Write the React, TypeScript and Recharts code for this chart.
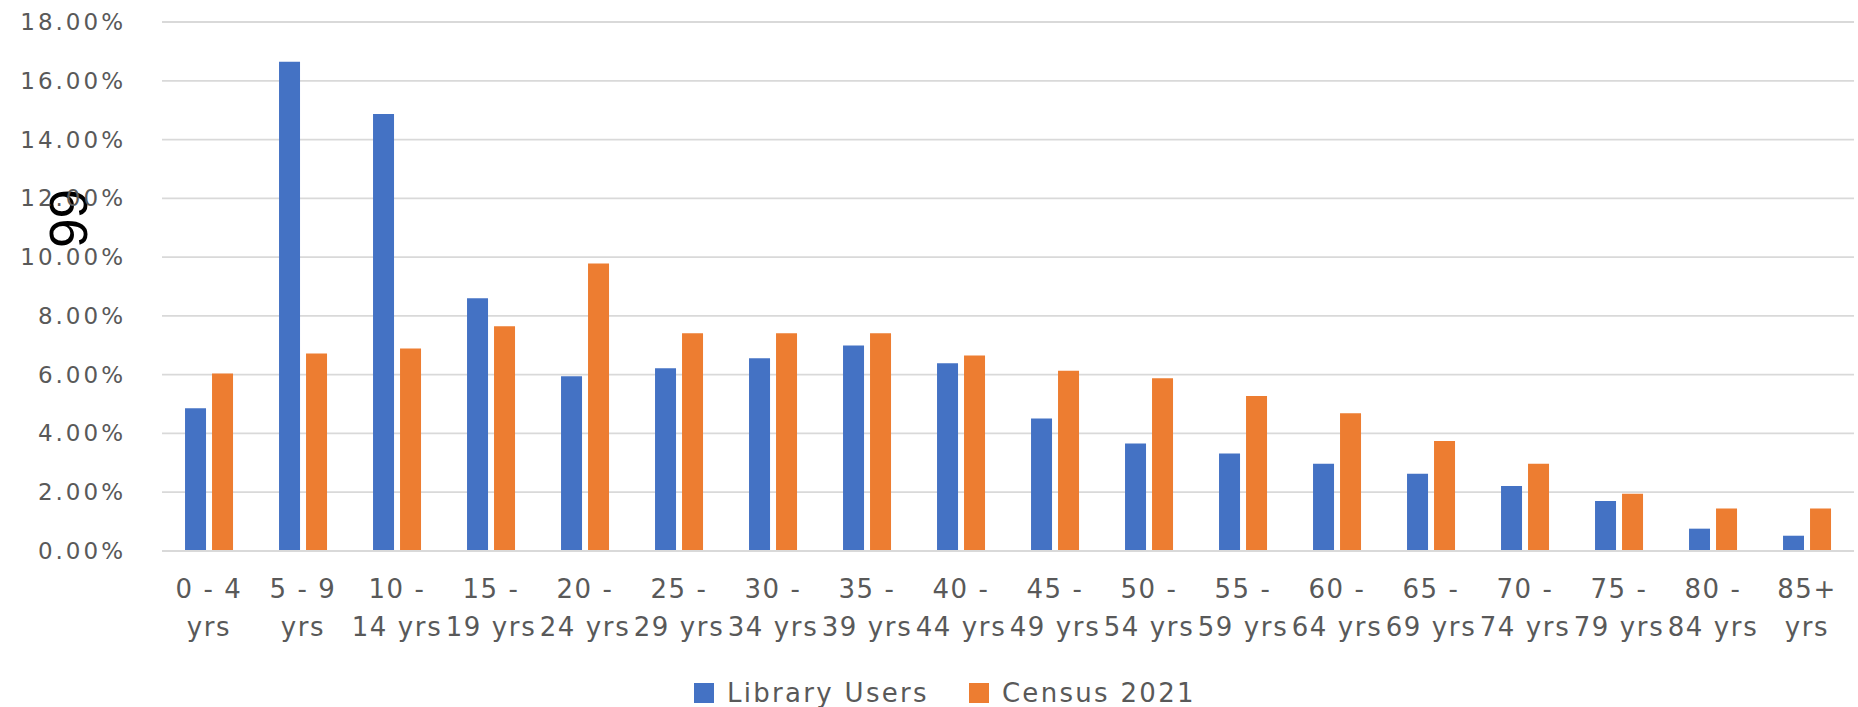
import { Bar, BarChart, CartesianGrid, Legend, XAxis, YAxis } from "recharts";

const ageGroups = [
  "0 - 4 yrs",
  "5 - 9 yrs",
  "10 - 14 yrs",
  "15 - 19 yrs",
  "20 - 24 yrs",
  "25 - 29 yrs",
  "30 - 34 yrs",
  "35 - 39 yrs",
  "40 - 44 yrs",
  "45 - 49 yrs",
  "50 - 54 yrs",
  "55 - 59 yrs",
  "60 - 64 yrs",
  "65 - 69 yrs",
  "70 - 74 yrs",
  "75 - 79 yrs",
  "80 - 84 yrs",
  "85+ yrs",
];

// percent of each group
const libraryUsers = [4.86, 16.65, 14.87, 8.6, 5.95, 6.22, 6.56, 6.99, 6.39, 4.51, 3.66, 3.32, 2.97, 2.63, 2.21, 1.7, 0.76, 0.52];
const census2021 = [6.04, 6.72, 6.89, 7.65, 9.78, 7.41, 7.41, 7.41, 6.65, 6.13, 5.88, 5.27, 4.69, 3.74, 2.97, 1.95, 1.45, 1.45];

const yTicks = [0, 2, 4, 6, 8, 10, 12, 14, 16, 18];

const seriesOrder = ["library", "census"];

const data = ageGroups.map((group, i) => ({
  group,
  library: libraryUsers[i],
  census: census2021[i],
}));

const BLUE = "#4472C4";
const ORANGE = "#ED7D31";
const TEXT = "#595959";
const GRID = "#D9D9D9";
const FONT = "'DejaVu Sans', sans-serif";

// wrap category labels the way the spreadsheet does (about 6 chars a line)
const wrapLabel = (label: string, max = 6) => {
  const lines: string[] = [];
  let cur = "";
  for (const w of label.split(" ")) {
    const next = cur ? `${cur} ${w}` : w;
    if (next.length > max && cur) {
      lines.push(cur);
      cur = w;
    } else {
      cur = next;
    }
  }
  if (cur) lines.push(cur);
  return lines;
};

const XTick = ({ x, y, payload }: any) => {
  const lines = wrapLabel(String(payload.value));
  return (
    <text x={x} y={y} textAnchor="middle" fill={TEXT} fontSize={26} fontFamily={FONT} letterSpacing={1.6}>
      {lines.map((l, i) => (
        <tspan key={i} x={x} y={y + 47 + i * 38}>
          {l}
        </tspan>
      ))}
    </text>
  );
};

const YTick = ({ x, y, payload }: any) => (
  <text x={x} y={y} dy="0.35em" textAnchor="end" fill={TEXT} fontSize={23} fontFamily={FONT} letterSpacing={3}>
    {`${Number(payload.value).toFixed(2)}%`}
  </text>
);

const StrayLabel = () => (
  <text
    x={0}
    y={0}
    dy="0.36em"
    transform="translate(67.5,218.5) rotate(-90)"
    textAnchor="middle"
    fill="#000"
    fontSize={53}
    fontFamily="'Liberation Sans', Arial, sans-serif"
  >
    99
  </text>
);

const LegendContent = ({ payload }: any) => {
  const items = [...(payload || [])].sort(
    (a: any, b: any) => seriesOrder.indexOf(a.dataKey) - seriesOrder.indexOf(b.dataKey)
  );
  return (
    <div
      style={{
        display: "flex",
        alignItems: "center",
        height: 40,
        fontFamily: FONT,
        fontSize: 26,
        letterSpacing: 2.3,
        color: TEXT,
        whiteSpace: "nowrap",
      }}
    >
      {items.map((p: any) => (
        <span key={p.value} style={{ display: "flex", alignItems: "center", marginRight: 40 }}>
          <span style={{ display: "inline-block", width: 20, height: 20, background: p.color, marginRight: 13 }} />
          {p.value}
        </span>
      ))}
    </div>
  );
};

const App = () => (
  <div style={{ position: "absolute", left: 0, top: 0, width: 1858, height: 707, background: "#fff" }}>
    <BarChart
      width={1858}
      height={707}
      data={data}
      margin={{ top: 22, right: 4, left: 0, bottom: 0 }}
      barCategoryGap="24.5%"
      barGap={6}
    >
      <CartesianGrid vertical={false} stroke={GRID} strokeWidth={1.8} />
      <XAxis
        dataKey="group"
        interval={0}
        tickSize={0}
        tickMargin={0}
        tickLine={false}
        axisLine={{ stroke: GRID, strokeWidth: 2 }}
        tick={<XTick />}
        height={116}
      />
      <YAxis
        domain={[0, 18]}
        ticks={yTicks}
        width={162}
        tickSize={0}
        tickMargin={36}
        tickLine={false}
        axisLine={false}
        tick={<YTick />}
        label={<StrayLabel />}
      />
      <Legend content={<LegendContent />} wrapperStyle={{ left: 694, top: 673, width: 560 }} />
      <Bar dataKey="library" name="Library Users" fill={BLUE} isAnimationActive={false} />
      <Bar dataKey="census" name="Census 2021" fill={ORANGE} isAnimationActive={false} />
    </BarChart>
  </div>
);

export default App;
